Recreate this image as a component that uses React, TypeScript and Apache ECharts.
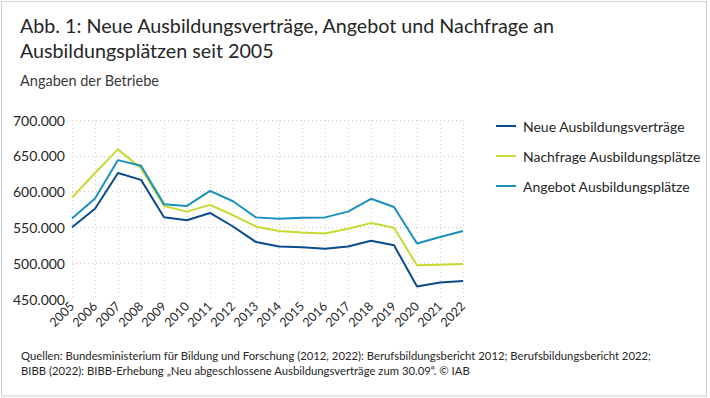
import React, { useEffect, useRef } from "react";
import * as echarts from "echarts";

const years = ["2005","2006","2007","2008","2009","2010","2011","2012","2013","2014","2015","2016","2017","2018","2019","2020","2021","2022"];
const neueVertraege = [550180, 576153, 625885, 616342, 564307, 559960, 570140, 551258, 529542, 523201, 522161, 520332, 523290, 531413, 525081, 467484, 473064, 475144];
const nachfrage = [591500, 626000, 659000, 632500, 580000, 572000, 581500, 567000, 551000, 545000, 543000, 541500, 548000, 556000, 549500, 497000, 498000, 499000];
const angebot = [562500, 590500, 644000, 636000, 582500, 580000, 601000, 586500, 564000, 562000, 563500, 564000, 572000, 590000, 578500, 527500, 536500, 545000];

const seriesNames = ["Neue Ausbildungsverträge", "Nachfrage Ausbildungsplätze", "Angebot Ausbildungsplätze"];
const colors = ["#0b4a8b", "#c8d932", "#1b8fbd"];

const FONT = "Lato, 'Noto Sans', sans-serif";
const TXT = "#262626";

export default function App() {
  const ref = useRef<HTMLDivElement>(null);
  useEffect(() => {
    document.body.style.margin = "0";
    const chart = echarts.init(ref.current!, null, { renderer: "svg" });
    const fmt = (v: number) => String(Math.round(v)).replace(/\B(?=(\d{3})+(?!\d))/g, ".");
    chart.setOption({
      animation: false,
      textStyle: { fontFamily: FONT },
      title: [
        {
          text: "Abb. 1: Neue Ausbildungsverträge, Angebot und Nachfrage an\nAusbildungsplätzen seit 2005",
          left: 20, top: 12.5, padding: 0,
          textStyle: { fontFamily: FONT, fontSize: 19.7, fontWeight: "normal", color: TXT, lineHeight: 25 },
        },
        {
          text: "Angaben der Betriebe",
          left: 20, top: 72, padding: 0,
          textStyle: { fontFamily: FONT, fontSize: 14.5, fontWeight: "normal", color: "#3a3a3a", lineHeight: 16 },
        },
        {
          text: "Quellen: Bundesministerium für Bildung und Forschung (2012, 2022): Berufsbildungsbericht 2012; Berufsbildungsbericht 2022;\nBIBB (2022): BIBB-Erhebung „Neu abgeschlossene Ausbildungsverträge zum 30.09“. © IAB",
          left: 21, top: 348, padding: 0,
          textStyle: { fontFamily: FONT, fontSize: 11.3, fontWeight: "normal", color: TXT, lineHeight: 15 },
        },
      ],
      graphic: [
        {
          type: "rect",
          shape: { x: 1.5, y: 1.5, width: 705, height: 394.5 },
          style: { fill: "none", stroke: "#cfcfcf", lineWidth: 1 },
          silent: true,
        },
      ],
      legend: {
        orient: "vertical",
        left: 491, top: 114,
        icon: "rect",
        itemWidth: 20, itemHeight: 2,
        itemGap: 16,
        data: seriesNames,
        textStyle: { fontFamily: FONT, fontSize: 14, color: TXT, padding: [0, 0, 0, 2] },
      },
      grid: { left: 72, right: 247, top: 120, bottom: 99 },
      xAxis: {
        type: "category",
        data: years,
        boundaryGap: false,
        axisLine: { show: false },
        axisTick: { show: false },
        axisLabel: { rotate: 45, interval: 0, fontSize: 12.5, color: TXT, margin: 5, fontFamily: FONT },
        splitLine: { show: true, interval: 0, lineStyle: { color: "#d0d0d0", type: [1, 3], width: 1 } },
      },
      yAxis: {
        type: "value",
        min: 450000, max: 700000, interval: 50000,
        axisLine: { show: false },
        axisTick: { show: false },
        axisLabel: { fontSize: 14, color: TXT, margin: 7, formatter: fmt, fontFamily: FONT },
        splitLine: { show: true, showMinLine: false, lineStyle: { color: "#c8c8c8", type: [1, 3], width: 1 } },
      },
      series: [neueVertraege, nachfrage, angebot].map((d, i) => ({
        name: seriesNames[i],
        type: "line",
        data: d,
        symbol: "none",
        lineStyle: { width: 2, color: colors[i] },
        itemStyle: { color: colors[i] },
      })),
    });
    return () => chart.dispose();
  }, []);
  return <div ref={ref} style={{ width: 710, height: 398 }} />;
}
